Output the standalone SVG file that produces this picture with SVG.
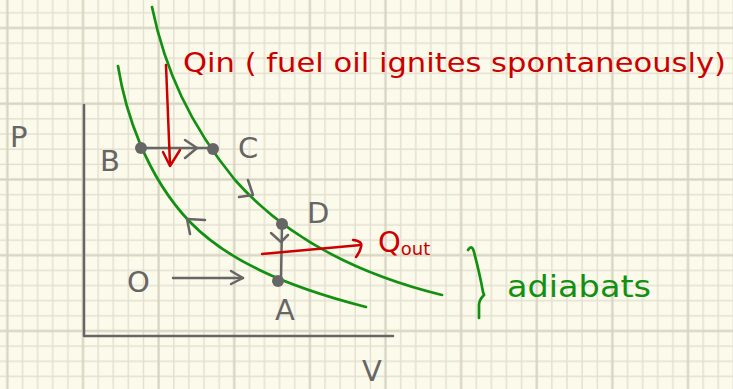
<svg xmlns="http://www.w3.org/2000/svg" width="733" height="389" viewBox="0 0 733 389">
<style>
.lbl{font-family:"DejaVu Sans","Liberation Sans",sans-serif;fill:#666;font-size:29px}
.red{font-family:"DejaVu Sans","Liberation Sans",sans-serif;fill:#cc0000}
.grn{font-family:"DejaVu Sans","Liberation Sans",sans-serif;fill:#129012}
.gline{fill:none;stroke:#666;stroke-width:2.5;stroke-linecap:round;stroke-linejoin:round}
.rline{fill:none;stroke:#cc0000;stroke-width:2.5;stroke-linecap:round;stroke-linejoin:round}
.curve{fill:none;stroke:#129012;stroke-width:2.7;stroke-linecap:round}
.dot{fill:#666}
</style>
<defs>
<pattern id="grid" patternUnits="userSpaceOnUse" x="75.44" y="20.42" width="75.625" height="75.75">
<g fill="#e2dfd0">
<rect x="22.0" y="0" width="1.4" height="75.75"/>
<rect x="37.1" y="0" width="1.4" height="75.75"/>
<rect x="52.2" y="0" width="1.4" height="75.75"/>
<rect x="67.4" y="0" width="1.4" height="75.75"/>
<rect x="0" y="22.0" width="75.625" height="1.4"/>
<rect x="0" y="37.2" width="75.625" height="1.4"/>
<rect x="0" y="52.3" width="75.625" height="1.4"/>
<rect x="0" y="67.5" width="75.625" height="1.4"/>
</g>
<g fill="#d8d4c3">
<rect x="6.4" y="0" width="2.3" height="75.75"/>
<rect x="0" y="6.4" width="75.625" height="2.3"/>
</g>
</pattern>
</defs>
<rect width="733" height="389" fill="#fcfaea"/>
<rect width="733" height="389" fill="url(#grid)"/>

<g id="axes">
<path class="gline" d="M84,105 L84,336 L393,336"/>
</g>

<g id="adiabats-curves">
<path class="curve" d="M118,66 C125,110 145,175 190,222 C225,258 280,285 366,307"/>
<path class="curve" d="M152,7 C165,70 190,125 235,180 C275,225 340,270 442,295"/>
</g>

<g id="connectors">
<path class="gline" d="M141,148 L213,148"/>
<path class="gline" d="M185,140 L197,148 L185,158"/>
<path class="gline" d="M173,278 L243,278"/>
<path class="gline" d="M231,271 L243,278 L231,284"/>
<path class="gline" d="M282,224 L281,280"/>
<path class="gline" d="M271,233 L281,242 L288,235"/>
<path class="gline" d="M190,234 L187,219 L205,220"/>
<path class="gline" d="M248,180 L253,195 L239,197"/>
<path class="rline" d="M166,65 L170,165"/>
<path class="rline" d="M163,152 L170,166 L180,150"/>
<path class="rline" d="M262,254 L361,245"/>
<path class="rline" d="M353,240 Q363,241 361,247 Q360,252 356,257"/>
</g>

<g id="node-B"><circle class="dot" cx="141" cy="148" r="6"/><text class="lbl" x="100" y="171">B</text></g>
<g id="node-C"><circle class="dot" cx="213" cy="149" r="6"/><text class="lbl" x="238" y="158">C</text></g>
<g id="node-D"><circle class="dot" cx="282" cy="224" r="6"/><text class="lbl" x="307" y="223">D</text></g>
<g id="node-A"><circle class="dot" cx="278" cy="281" r="6"/><text class="lbl" x="275" y="320">A</text></g>
<g id="node-O"><text class="lbl" x="127" y="292">O</text></g>
<g id="label-P"><text class="lbl" x="10" y="147">P</text></g>
<g id="label-V"><text class="lbl" x="362" y="381" font-size="24">V</text></g>

<g id="label-Qin"><text class="red" x="183" y="72" font-size="27" textLength="543" lengthAdjust="spacingAndGlyphs">Qin ( fuel oil ignites spontaneously)</text></g>
<g id="label-Qout"><text class="red" x="378" y="252" font-size="29">Q<tspan font-size="18" dy="3">out</tspan></text></g>

<g id="label-adiabats">
<path class="curve" d="M468,250 Q472,244 474,252 Q480,275 483,292 L484,295 Q479,300 479,305 L479,318"/>
<text class="grn" x="507" y="297" font-size="30" textLength="144" lengthAdjust="spacingAndGlyphs">adiabats</text>
</g>
</svg>
